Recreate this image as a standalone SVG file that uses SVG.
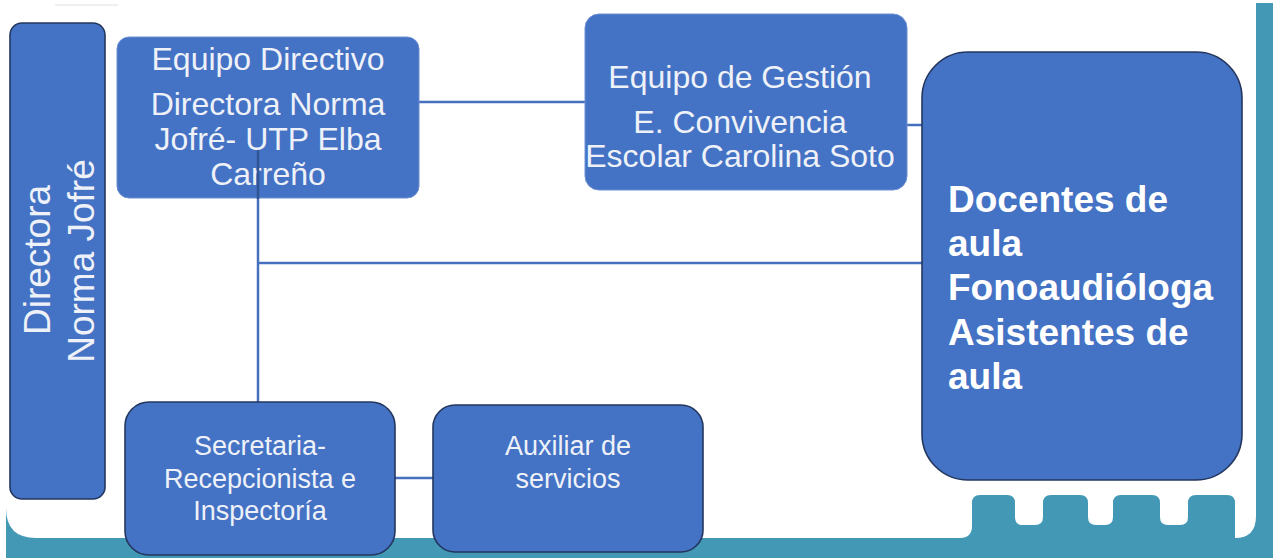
<svg xmlns="http://www.w3.org/2000/svg" width="1273" height="558" viewBox="0 0 1273 558">
<style>
.box{fill:#4472C4;}
.dark{stroke:#23375e;stroke-width:1.6;}
.light{stroke:#6d8fd3;stroke-width:1;}
.t{font-family:"Liberation Sans",Arial,sans-serif;fill:#eef1f8;text-anchor:middle;}
.b{font-family:"Liberation Sans",Arial,sans-serif;fill:#ffffff;font-weight:bold;font-size:37px;}
.conn{stroke:#4670bf;stroke-width:2.5;fill:none;}
.conn-in{stroke:#2f5597;stroke-width:2.5;fill:none;}
</style>
<rect width="1273" height="558" fill="#ffffff"/>
<line x1="55" y1="5" x2="118" y2="5" stroke="#f0f0f0" stroke-width="2"/>
<path id="frame" fill="#4298B5" d="M1256 3 L1273 3 L1273 558 L6 558 L6 508 Q6 538 36 538 L960 538 Q972 538 972 526 L972 503 Q972 495 980 495 L1007 495 Q1015 495 1015 503 L1015 517 Q1015 525 1023 525 L1035 525 Q1043 525 1043 517 L1043 503 Q1043 495 1051 495 L1080 495 Q1088 495 1088 503 L1088 517 Q1088 525 1096 525 L1105 525 Q1113 525 1113 517 L1113 503 Q1113 495 1121 495 L1152 495 Q1160 495 1160 503 L1160 517 Q1160 525 1168 525 L1180 525 Q1188 525 1188 517 L1188 503 Q1188 495 1196 495 L1227 495 Q1235 495 1235 503 L1235 538 Q1256 538 1256 516 Z"/>
<g id="connectors">
<line class="conn" x1="419" y1="102" x2="585" y2="102"/>
<line class="conn" x1="898" y1="125" x2="922" y2="125"/>
<line class="conn" x1="258" y1="263" x2="922" y2="263"/>
<line class="conn" x1="395" y1="478" x2="433" y2="478"/>
<line class="conn" x1="258" y1="198" x2="258" y2="402"/>
</g>
<g id="directora">
<rect class="box dark" x="10" y="23" width="95" height="476" rx="12"/>
<g class="t" font-size="37">
<text transform="rotate(-90)" x="-260" y="50">Directora</text>
<text transform="rotate(-90)" x="-261" y="94">Norma Jofré</text>
</g>
</g>
<g id="equipo-directivo">
<rect class="box light" x="117" y="37" width="302" height="161" rx="12"/>
<g class="t" font-size="32">
<text x="268" y="70">Equipo Directivo</text>
<text x="268" y="115">Directora Norma</text>
<text x="268" y="150">Jofré- UTP Elba</text>
<text x="268" y="185">Carreño</text>
</g>
<line class="conn-in" x1="258" y1="150" x2="258" y2="199"/>
</g>
<g id="equipo-gestion">
<rect class="box light" x="585" y="14" width="322" height="176" rx="14"/>
<g class="t" font-size="32">
<text x="740" y="88">Equipo de Gestión</text>
<text x="740" y="133">E. Convivencia</text>
<text x="740" y="167">Escolar Carolina Soto</text>
</g>
</g>
<g id="docentes">
<rect class="box dark" x="922" y="52" width="320" height="428" rx="46"/>
<text class="b" x="948" y="212">Docentes de</text>
<text class="b" x="948" y="256">aula</text>
<text class="b" x="948" y="300">Fonoaudióloga</text>
<text class="b" x="948" y="345">Asistentes de</text>
<text class="b" x="948" y="389">aula</text>
</g>
<g id="secretaria">
<rect class="box dark" x="125" y="402" width="270" height="153" rx="24"/>
<g class="t" font-size="27">
<text x="260" y="455">Secretaria-</text>
<text x="260" y="488">Recepcionista e</text>
<text x="260" y="520">Inspectoría</text>
</g>
</g>
<g id="auxiliar">
<rect class="box dark" x="433" y="405" width="270" height="147" rx="22"/>
<g class="t" font-size="27">
<text x="568" y="455">Auxiliar de</text>
<text x="568" y="488">servicios</text>
</g>
</g>
</svg>
